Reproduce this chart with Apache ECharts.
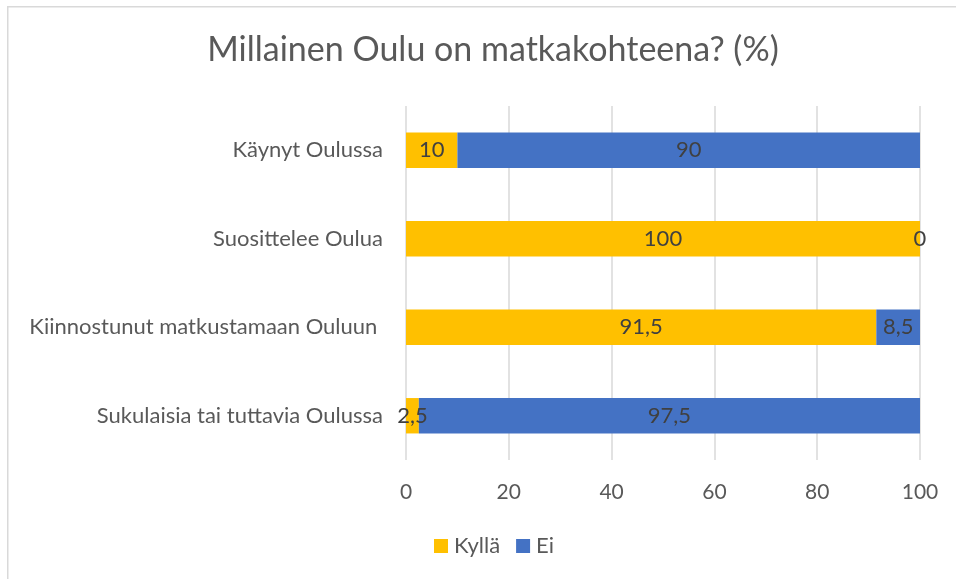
<!DOCTYPE html>
<html>
<head>
<meta charset="utf-8">
<script src="https://cdn.jsdelivr.net/npm/echarts@6/dist/echarts.min.js"></script>
<style>
html,body{margin:0;padding:0;background:#fff;}
#c{width:956px;height:579px;}
</style>
</head>
<body>
<div id="c"></div>
<script>
const titleText = 'Millainen Oulu on matkakohteena? (%)';
const categories = ['Käynyt Oulussa', 'Suosittelee Oulua', 'Kiinnostunut matkustamaan Ouluun ', 'Sukulaisia tai tuttavia Oulussa'];
const seriesNames = ['Kyllä', 'Ei'];
const kylla = [10, 100, 91.5, 2.5];
const ei = [90, 0, 8.5, 97.5];
const xTicks = [0, 20, 40, 60, 80, 100];

const FONT = 'Lato';
const chart = echarts.init(document.getElementById('c'), null, {renderer: 'canvas'});
const labelFmt = p => String(p.value).replace('.', ',');
chart.setOption({
  backgroundColor: '#ffffff',
  animation: false,
  graphic: [{
    type: 'rect', left: 7, top: 6, z: -10,
    shape: {x: 0, y: 0, width: 980, height: 600},
    style: {fill: '#ffffff', stroke: '#d9d9d9', lineWidth: 1.5}
  }],
  title: {
    text: titleText,
    left: 488, top: 28, textAlign: 'center',
    textStyle: {fontFamily: FONT, fontSize: 34, fontWeight: 'normal', color: '#595959'}
  },
  legend: {
    data: seriesNames,
    left: 429, top: 530,
    itemWidth: 14, itemHeight: 14, itemGap: 16,
    icon: 'rect',
    textStyle: {fontFamily: FONT, fontSize: 22, color: '#595959', padding: [0, 0, 0, 1]}
  },
  grid: {left: 406, right: 36, top: 106, bottom: 119, containLabel: false},
  xAxis: {
    type: 'value', min: 0, max: 100, interval: 20,
    axisLine: {show: false}, axisTick: {show: false},
    splitLine: {show: true, lineStyle: {color: '#d9d9d9', width: 1.5}},
    axisLabel: {
      fontFamily: FONT, fontSize: 21, color: '#595959', margin: 22,
      formatter: v => xTicks.includes(v) ? String(v) : ''
    }
  },
  yAxis: {
    type: 'category', data: categories, inverse: true,
    axisLine: {show: false}, axisTick: {show: false},
    axisLabel: {fontFamily: FONT, fontSize: 22, color: '#595959', margin: 23}
  },
  series: [
    {
      name: seriesNames[0], type: 'bar', stack: 's', data: kylla,
      barWidth: '40%',
      itemStyle: {color: '#FFC000'},
      label: {show: true, position: 'inside', formatter: labelFmt,
        fontFamily: FONT, fontSize: 22, color: '#404040'}
    },
    {
      name: seriesNames[1], type: 'bar', stack: 's', data: ei,
      barWidth: '40%',
      itemStyle: {color: '#4472C4'},
      label: {show: true, position: 'inside', formatter: labelFmt,
        fontFamily: FONT, fontSize: 22, color: '#404040'}
    }
  ]
});
</script>
</body>
</html>
